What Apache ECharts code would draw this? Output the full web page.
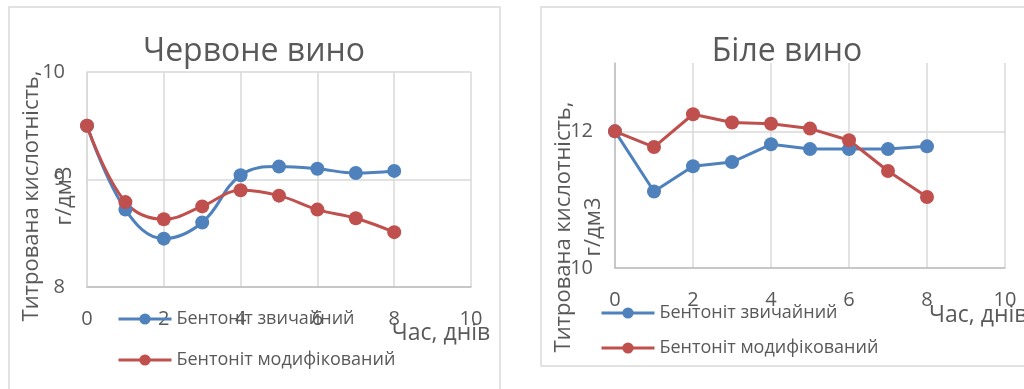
<!DOCTYPE html>
<html>
<head>
<meta charset="utf-8">
<script src="https://cdn.jsdelivr.net/npm/echarts@6/dist/echarts.min.js"></script>
<style>
  html, body { margin: 0; padding: 0; background: #ffffff; }
  #chart { width: 1024px; height: 389px; }
</style>
</head>
<body>
<div id="chart"></div>
<script>
// Days of storage
const days = [0, 1, 2, 3, 4, 5, 6, 7, 8];

// Titratable acidity, g/dm3 — red wine
const redRegular  = [9.50, 8.72, 8.45, 8.60, 9.04, 9.12, 9.10, 9.06, 9.08];
const redModified = [9.50, 8.79, 8.63, 8.75, 8.90, 8.85, 8.72, 8.64, 8.51];

// Titratable acidity, g/dm3 — white wine
const whiteRegular  = [12.00, 11.12, 11.49, 11.55, 11.81, 11.74, 11.74, 11.74, 11.78];
const whiteModified = [12.00, 11.77, 12.25, 12.13, 12.11, 12.04, 11.87, 11.42, 11.04];

const seriesNames = ['Бентоніт звичайний', 'Бентоніт модифікований'];
const chartTitles = ['Червоне вино', 'Біле вино'];
const yAxisTitle = 'Титрована кислотність,\nг/дм3';
const xAxisTitle = 'Час, днів';

const BLUE = '#4f81bd';
const RED = '#c0504d';
const TEXT = '#595959';
const GRID = '#d9d9d9';
const AXIS = '#bfbfbf';
const FONT = '"Open Sans", "Noto Sans", sans-serif';

const pairs = vals => days.map((d, i) => [d, vals[i]]);

function xAxisFor(gridIndex) {
  return {
    type: 'value', gridIndex, min: 0, max: 10, interval: 2,
    axisLine: { show: true, onZero: false, lineStyle: { color: AXIS, width: 1.5 } },
    axisTick: { show: false },
    splitLine: { show: true, lineStyle: { color: GRID, width: 1.5 } },
    axisLabel: { color: TEXT, fontSize: 20, fontFamily: FONT, margin: 22 }
  };
}

function lineSeries(name, color, data, axisIndex, smooth) {
  return {
    name, type: 'line', xAxisIndex: axisIndex, yAxisIndex: axisIndex,
    data, smooth, symbol: 'circle', symbolSize: 14,
    lineStyle: { color, width: 3 },
    itemStyle: { color },
    emphasis: { disabled: true }
  };
}

function legendAt(left, top, gap) {
  return {
    orient: 'vertical', left, top, itemGap: gap, padding: 0,
    itemWidth: 53, itemHeight: 14,
    data: seriesNames,
    lineStyle: { width: 3 },
    textStyle: { color: TEXT, fontSize: 18, fontFamily: FONT, lineHeight: 20 }
  };
}

const chart = echarts.init(document.getElementById('chart'), null, { renderer: 'canvas' });

chart.setOption({
  animation: false,
  backgroundColor: '#ffffff',
  grid: [
    { left: 87, top: 72, width: 384, height: 215 },
    { left: 615, top: 63, width: 390, height: 205 }
  ],
  xAxis: [xAxisFor(0), xAxisFor(1)],
  yAxis: [
    {
      type: 'value', gridIndex: 0, min: 8, max: 10, interval: 1,
      axisLine: { show: true, lineStyle: { color: GRID, width: 1.5 } },
      axisTick: { show: false },
      splitLine: { show: true, lineStyle: { color: GRID, width: 1.5 } },
      axisLabel: { color: TEXT, fontSize: 20, fontFamily: FONT, margin: 22 }
    },
    {
      type: 'value', gridIndex: 1, min: 10, max: 13, interval: 2,
      axisLine: { show: true, lineStyle: { color: AXIS, width: 1.5 } },
      axisTick: { show: false },
      splitLine: { show: true, showMaxLine: false, lineStyle: { color: GRID, width: 1.5 } },
      axisLabel: { color: TEXT, fontSize: 20, fontFamily: FONT, margin: 22, showMaxLabel: false }
    }
  ],
  legend: [legendAt(117, 309, 21), legendAt(600, 303, 15)],
  series: [
    lineSeries(seriesNames[0], BLUE, pairs(redRegular), 0, 0.4),
    lineSeries(seriesNames[1], RED, pairs(redModified), 0, 0.4),
    lineSeries(seriesNames[0], BLUE, pairs(whiteRegular), 1, false),
    lineSeries(seriesNames[1], RED, pairs(whiteModified), 1, false)
  ],
  graphic: [
    // chart frames
    { type: 'rect', silent: true, z: -1, shape: { x: 9, y: 7, width: 491, height: 400 },
      style: { fill: '#ffffff', stroke: GRID, lineWidth: 1.5 } },
    { type: 'rect', silent: true, z: -1, shape: { x: 541, y: 7, width: 500, height: 359 },
      style: { fill: '#ffffff', stroke: GRID, lineWidth: 1.5 } },
    // chart titles
    { type: 'text', silent: true, x: 254, y: 52,
      style: { text: chartTitles[0], fill: TEXT, font: '32px ' + FONT, align: 'center', verticalAlign: 'middle' } },
    { type: 'text', silent: true, x: 787, y: 52,
      style: { text: chartTitles[1], fill: TEXT, font: '32px ' + FONT, align: 'center', verticalAlign: 'middle' } },
    // y axis titles
    { type: 'text', silent: true, x: 48, y: 196, rotation: Math.PI / 2,
      style: { text: yAxisTitle, fill: TEXT, font: '22px ' + FONT, lineHeight: 33, align: 'center', verticalAlign: 'middle' } },
    { type: 'text', silent: true, x: 579, y: 227, rotation: Math.PI / 2,
      style: { text: yAxisTitle, fill: TEXT, font: '22px ' + FONT, lineHeight: 30, align: 'center', verticalAlign: 'middle' } },
    // x axis titles
    { type: 'text', silent: true, x: 441, y: 333,
      style: { text: xAxisTitle, fill: TEXT, font: '23px ' + FONT, align: 'center', verticalAlign: 'middle' } },
    { type: 'text', silent: true, x: 929, y: 315,
      style: { text: xAxisTitle, fill: TEXT, font: '23px ' + FONT, align: 'left', verticalAlign: 'middle' } }
  ]
});
</script>
</body>
</html>
